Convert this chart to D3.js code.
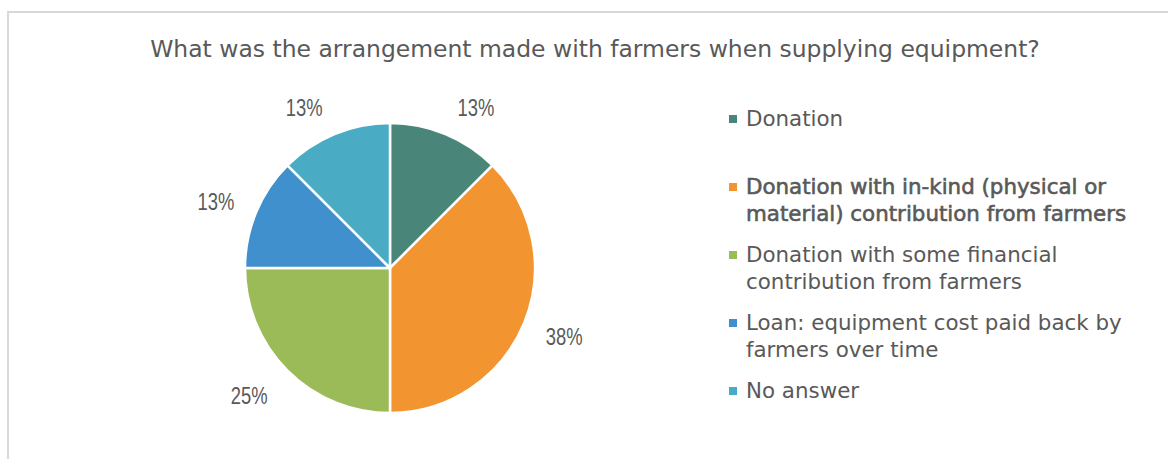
<!DOCTYPE html>
<html><head><meta charset="utf-8">
<script src="https://cdn.jsdelivr.net/npm/d3@7"></script>
<style>html,body{margin:0;padding:0;background:#fff;}svg{display:block;}</style>
</head><body>
<svg id="chart" width="1168" height="459"></svg>
<script>
const title = "What was the arrangement made with farmers when supplying equipment?";
const categories = [
  "Donation",
  "Donation with in-kind (physical or material) contribution from farmers",
  "Donation with some financial contribution from farmers",
  "Loan: equipment cost paid back by farmers over time",
  "No answer"
];
const values = [12.5, 37.5, 25, 12.5, 12.5];
const labels = ["13%", "38%", "25%", "13%", "13%"];
const colors = ["#4a8579", "#f2942f", "#9bbb59", "#3f90cd", "#4aabc5"];
const emphasis = [false, true, false, false, false];

const svg = d3.select("#chart");
const textColor = "#595959";
const font = "'DejaVu Sans', Verdana, sans-serif";
const labelFont = "'Liberation Sans', Arial, sans-serif";

// border
svg.append("rect").attr("x", 8).attr("y", 12).attr("width", 1200).attr("height", 500)
  .attr("fill", "none").attr("stroke", "#d9d9d9").attr("stroke-width", 2);

function fitSize(text, target, family, weight) {
  const t = svg.append("text").attr("font-family", family).attr("font-size", 20)
    .attr("font-weight", weight || "normal").text(text);
  const w = t.node().getComputedTextLength();
  t.remove();
  return 20 * target / w;
}

// title
const titleSize = fitSize(title, 890, font);
svg.append("text").attr("x", 595).attr("y", 57).attr("text-anchor", "middle")
  .attr("font-family", font).attr("font-size", titleSize).attr("fill", textColor).text(title);

// pie
const cx = 390, cy = 268, R = 145;
const pie = d3.pie().sort(null).value(d => d);
const arcs = pie(values);
const arc = d3.arc().innerRadius(0).outerRadius(R);
const g = svg.append("g").attr("transform", `translate(${cx},${cy})`);
g.selectAll("path").data(arcs).join("path")
  .attr("d", arc).attr("fill", (d, i) => colors[i])
  .attr("stroke", "#fff").attr("stroke-width", 2.5).attr("stroke-linejoin", "round");

const labelSize = 23;
g.selectAll("text.lbl").data(arcs).join("text").attr("class", "lbl")
  .attr("text-anchor", "middle").attr("font-family", labelFont)
  .attr("font-size", labelSize).attr("fill", textColor)
  .text((d, i) => labels[i])
  .each(function(d, i) {
    const a = (d.startAngle + d.endAngle) / 2;
    const s = Math.sin(a), c = Math.cos(a);
    const Rl = R + 36;
    const x = s * Rl + Math.sign(s) * 18 * Math.abs(c);
    const y = -c * Rl + 8 * Math.max(c, 0);
    const w = this.getComputedTextLength();
    d3.select(this).attr("x", x).attr("y", y).attr("dy", "0.35em")
      .attr("textLength", w * 0.8).attr("lengthAdjust", "spacingAndGlyphs");
  });

// legend
const legSize = fitSize("Loan: equipment cost paid back by", 376, font);
const legX = 729, legTextX = 746, legY0 = 119, legStep = 68, lineH = 27, maxW = 410;
function wrap(text, size) {
  const words = text.split(" ");
  const lines = []; let cur = "";
  const t = svg.append("text").attr("font-family", font).attr("font-size", size);
  for (const w of words) {
    const trial = cur ? cur + " " + w : w;
    t.text(trial);
    if (t.node().getComputedTextLength() > maxW && cur) { lines.push(cur); cur = w; }
    else cur = trial;
  }
  lines.push(cur); t.remove();
  return lines;
}
const leg = svg.append("g");
categories.forEach((cat, i) => {
  const y = legY0 + i * legStep;
  leg.append("rect").attr("x", legX).attr("y", y - 4).attr("width", 8).attr("height", 8)
    .attr("fill", colors[i]);
  const lines = wrap(cat, legSize);
  const t = leg.append("text").attr("font-family", font).attr("font-size", legSize)
    .attr("fill", textColor);
  if (emphasis[i]) t.attr("stroke", textColor).attr("stroke-width", 0.6);
  lines.forEach((ln, j) => {
    t.append("tspan").attr("x", legTextX).attr("y", y + j * lineH).attr("dy", "0.35em").text(ln);
  });
});
</script>
</body></html>
